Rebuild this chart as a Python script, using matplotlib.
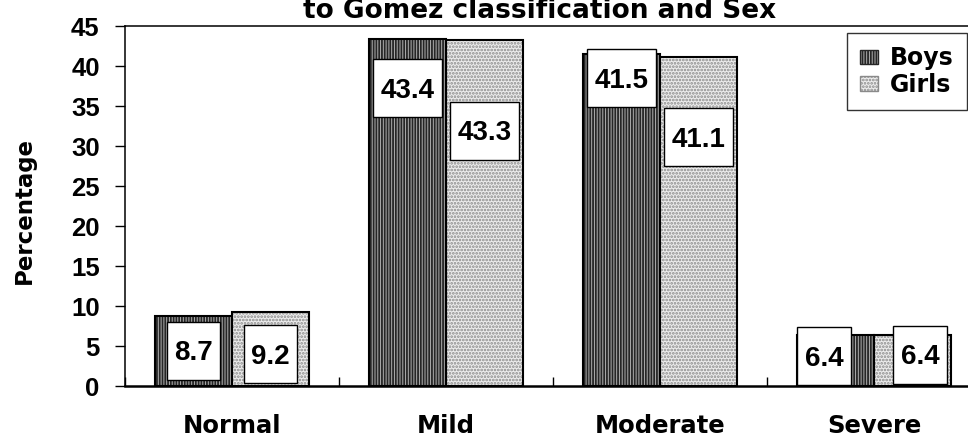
import matplotlib.pyplot as plt
from matplotlib.patches import Patch, Rectangle

categories = ["Normal", "Mild", "Moderate", "Severe"]
boys = [8.7, 43.4, 41.5, 6.4]
girls = [9.2, 43.3, 41.1, 6.4]
series_names = ["Boys", "Girls"]

# where the data-label boxes sit (x shift from bar centre, y centre)
lab_dx = [[0, 0, 0, -0.054], [0, 0, 0, 0.035]]
lab_y = [[4.4, 37.25, 38.5, 3.7], [3.95, 31.9, 31.1, 3.9]]

plt.rcParams["hatch.linewidth"] = 1.3
num_font = "Liberation Sans"
word_font = "DejaVu Sans"

fig = plt.figure(figsize=(9.68, 4.41), dpi=100)
ax = fig.add_axes([125 / 968, 55 / 441, 856 / 968, 360 / 441])

bw = 0.36
centers = [i + 0.5 for i in range(len(categories))]
styles = [
    dict(facecolor="#b0b0b0", hatch="||||||", edgecolor="#262626"),
    dict(facecolor="#ededed", hatch=".....", edgecolor="#8a8a8a"),
]

for s, vals in enumerate([boys, girls]):
    xs = [c + (s - 0.5) * bw for c in centers]
    ax.bar(xs, vals, width=bw, linewidth=0, zorder=2, **styles[s])
    ax.bar(xs, vals, width=bw, facecolor="none", edgecolor="black",
           linewidth=1.5, zorder=3)

ax.set_xlim(0, 4)
ax.set_ylim(0, 45)
ax.set_yticks(range(0, 46, 5))
ax.set_xticks(range(0, 5))
ax.set_xticklabels([])
ax.set_xticks(centers, minor=True)
ax.set_xticklabels(categories, minor=True, fontsize=17.5, fontweight="bold",
                   family=word_font)
ax.tick_params(axis="x", which="major", direction="in", length=6.5, width=1)
ax.tick_params(axis="x", which="minor", length=0, pad=20)
ax.tick_params(axis="y", direction="out", length=7.2, width=1, pad=11)
for t in ax.get_yticklabels():
    t.set_fontsize(18.5)
    t.set_fontweight("bold")
    t.set_family(num_font)

ax.spines["right"].set_visible(False)
ax.spines["bottom"].set_linewidth(1.8)
for side in ["left", "top"]:
    ax.spines[side].set_linewidth(1.1)

fig.text(24 / 968, 1 - 211 / 441, "Percentage", rotation=90, fontsize=16.5,
         fontweight="bold", family=word_font, ha="center", va="center")
fig.text(540 / 968, 1 - 18.5 / 441, "to Gomez classification and Sex",
         fontsize=19, fontweight="bold", family=word_font, ha="center",
         va="baseline")

# data labels in white boxes
texts = []
for s, vals in enumerate([boys, girls]):
    for i, v in enumerate(vals):
        x = centers[i] + (s - 0.5) * bw + lab_dx[s][i]
        y = lab_y[s][i]
        t = ax.text(x, y - 1.2, f"{v:.1f}", ha="center", va="baseline",
                    fontsize=20, fontweight="bold", family=num_font, zorder=6)
        texts.append((t, x, y))

fig.canvas.draw()
r = fig.canvas.get_renderer()
px_per_x = 856 / 4
for t, x, y in texts:
    w = (t.get_window_extent(r).width + 15) / px_per_x
    ax.add_patch(Rectangle((x - w / 2, y - 3.625), w, 7.25, facecolor="white",
                           edgecolor="black", linewidth=1, zorder=5))

handles = [Patch(label=series_names[s], **styles[s]) for s in range(2)]
leg = ax.legend(handles=handles, loc="upper right",
                bbox_to_anchor=(967 / 968, 1 - 33 / 441),
                bbox_transform=fig.transFigure, borderaxespad=0,
                prop={"family": word_font, "weight": "bold", "size": 17},
                handlelength=0.8, handleheight=0.55, handletextpad=0.5,
                labelspacing=0.12, borderpad=0.55,
                fancybox=False, framealpha=1)
leg.get_frame().set_edgecolor("#333333")
leg.get_frame().set_linewidth(1)

fig.savefig("out.png", dpi=100)
